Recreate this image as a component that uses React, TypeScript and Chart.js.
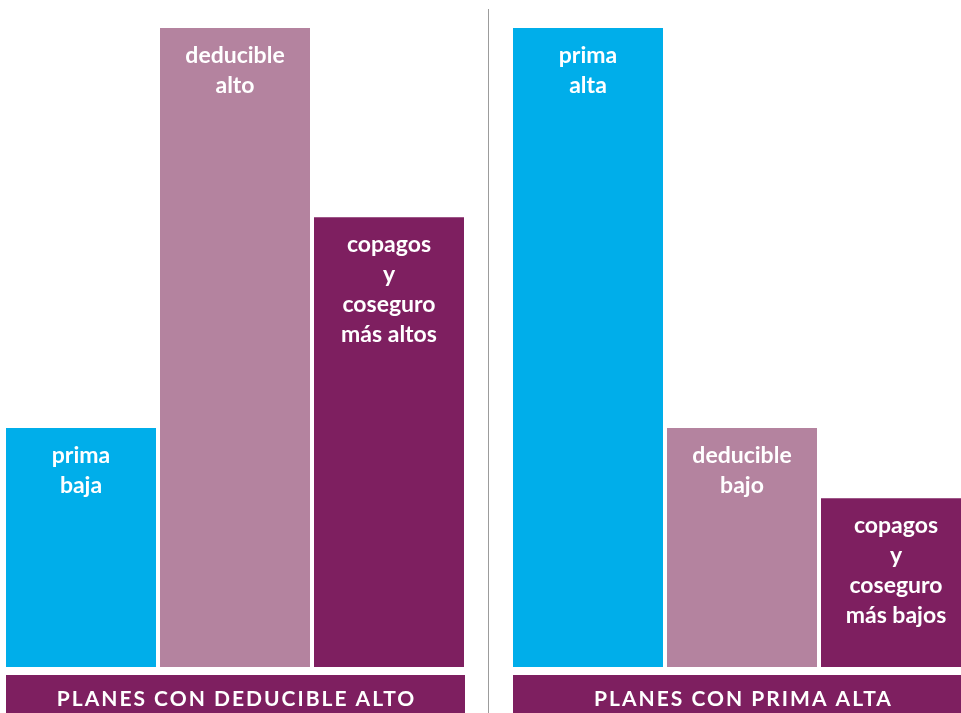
import React, { useEffect, useRef } from "react";
import { Chart, registerables } from "chart.js";

Chart.register(...registerables);

// ---- data ----
const leftCategories: string[][] = [["prima", "baja"], ["deducible", "alto"], ["copagos", "y", "coseguro", "más altos"]];
const leftValues: number[] = [37.4, 100, 70.4];
const leftTitle = "PLANES CON DEDUCIBLE ALTO";

const rightCategories: string[][] = [["prima", "alta"], ["deducible", "bajo"], ["copagos", "y", "coseguro", "más bajos"]];
const rightValues: number[] = [100, 37.4, 26.4];
const rightTitle = "PLANES CON PRIMA ALTA";

const barColors: string[] = ["#00AEEA", "#B4839F", "#7E1F60"];
const titleColor = "#7E1F60";
const FONT = "Lato, 'Open Sans', sans-serif";

const innerLabels = {
  id: "innerLabels",
  afterDatasetsDraw(chart: any) {
    const ctx = chart.ctx;
    const meta = chart.getDatasetMeta(0);
    const labels = chart.data.labels as string[][];
    ctx.save();
    ctx.fillStyle = "#ffffff";
    ctx.font = `bold 23px ${FONT}`;
    ctx.textAlign = "center";
    ctx.textBaseline = "alphabetic";
    meta.data.forEach((el: any, i: number) => {
      const lines = labels[i];
      lines.forEach((ln, j) => {
        ctx.fillText(ln, el.x, el.y + 35 + j * 30);
      });
    });
    ctx.restore();
  },
};

const groupTitle = {
  id: "groupTitle",
  afterDraw(chart: any, _args: any, opts: any) {
    const ctx = chart.ctx;
    const meta = chart.getDatasetMeta(0);
    const first = meta.data[0];
    const last = meta.data[meta.data.length - 1];
    const x0 = first.x - first.width / 2;
    const x1 = last.x + last.width / 2 + 1;
    const top = chart.chartArea.bottom + 8;
    ctx.save();
    ctx.fillStyle = opts.color;
    ctx.fillRect(x0, top, x1 - x0, chart.height - top);
    ctx.fillStyle = "#ffffff";
    ctx.font = `bold 21px ${FONT}`;
    (ctx as any).letterSpacing = "2px";
    ctx.textAlign = "center";
    ctx.textBaseline = "alphabetic";
    ctx.fillText(opts.text, (x0 + x1) / 2 + 1, chart.chartArea.bottom + 39);
    ctx.restore();
  },
};

function Group({ categories, values, title, left }: { categories: string[][]; values: number[]; title: string; left: number }) {
  const ref = useRef<HTMLCanvasElement>(null);
  useEffect(() => {
    if (!ref.current) return;
    const chart = new Chart(ref.current, {
      type: "bar",
      data: {
        labels: categories as any,
        datasets: [
          {
            data: values,
            backgroundColor: barColors,
            borderWidth: 0,
            barPercentage: 150 / 154,
            categoryPercentage: 1,
          },
        ],
      },
      options: {
        responsive: false,
        animation: false,
        devicePixelRatio: 1,
        layout: { padding: { top: 0, left: 0, right: 0, bottom: 52 } },
        scales: {
          x: { display: false },
          y: { display: false, min: 0, max: 100 },
        },
        plugins: {
          legend: { display: false },
          tooltip: { enabled: false },
          groupTitle: { text: title, color: titleColor },
        } as any,
      },
      plugins: [innerLabels, groupTitle],
    });
    return () => chart.destroy();
  }, [categories, values, title]);
  return (
    <canvas
      ref={ref}
      width={462}
      height={691}
      style={{ position: "absolute", left, top: 28, width: 462, height: 691 }}
    />
  );
}

export default function App() {
  return (
    <div
      style={{
        position: "fixed",
        left: 0,
        top: 0,
        width: 961,
        height: 713,
        overflow: "hidden",
        background: "#ffffff",
      }}
    >
      <Group categories={leftCategories} values={leftValues} title={leftTitle} left={4} />
      <div style={{ position: "absolute", left: 488, top: 9, width: 1, height: 704, background: "#9c9c9c" }} />
      <Group categories={rightCategories} values={rightValues} title={rightTitle} left={511} />
    </div>
  );
}
